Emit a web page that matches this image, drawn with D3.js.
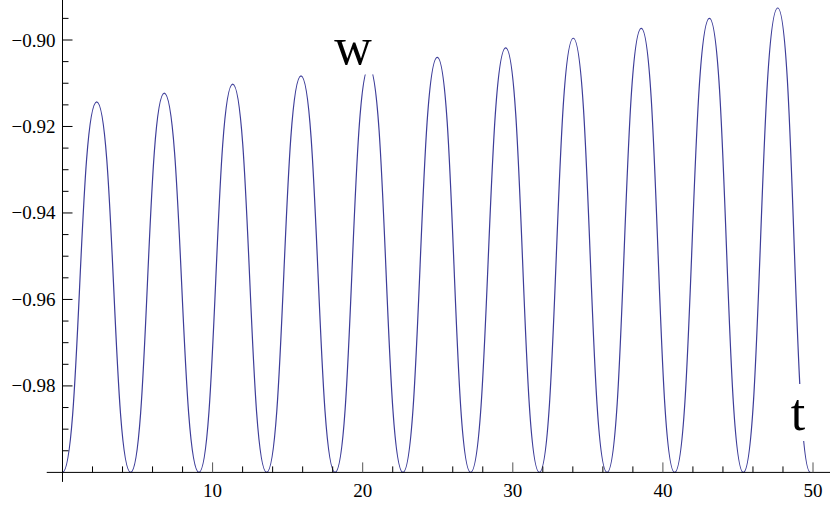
<!DOCTYPE html>
<html>
<head>
<meta charset="utf-8">
<script src="https://cdn.jsdelivr.net/npm/d3@7/dist/d3.min.js"></script>
<style>
  html, body { margin: 0; padding: 0; background: #fff; }
  svg { display: block; }
</style>
</head>
<body>
<script>
// ---- data ----
// extrema of the oscillation (t, w)
const tValues = [0, 2.28, 4.54, 6.78, 9.09, 11.34, 13.6, 15.89, 18.16, 20.42, 22.68,
                 24.97, 27.19, 29.53, 31.77, 34.03, 36.28, 38.56, 40.78, 43.1, 45.36,
                 47.65, 49.82];
const wValues = [-1.0, -0.9143, -1.0, -0.9123, -1.0, -0.9102, -1.0, -0.9083, -1.0, -0.9062, -1.0,
                 -0.9040, -1.0, -0.9018, -1.0, -0.8996, -1.0, -0.8973, -1.0, -0.8950, -1.0,
                 -0.8926, -1.0];
const xMajorTicks = [10, 20, 30, 40, 50];
const xMinorTicks = [2, 4, 6, 8, 12, 14, 16, 18, 22, 24, 26, 28, 32, 34, 36, 38, 42, 44, 46, 48];
const yMajorTicks = [-0.98, -0.96, -0.94, -0.92, -0.90];
const yMinorTicks = [-0.995, -0.99, -0.985, -0.975, -0.97, -0.965, -0.955, -0.95, -0.945,
                     -0.935, -0.93, -0.925, -0.915, -0.91, -0.905, -0.895];
const xAxisLabel = "t";
const yAxisLabel = "w";

const W = 830, H = 509;
const svg = d3.select("body").append("svg").attr("width", W).attr("height", H);

const x = d3.scaleLinear().domain([0, 50]).range([62.5, 813]);
const y = d3.scaleLinear().domain([-1.0, -0.90]).range([472.4, 40]);

const font = "'Liberation Serif', 'Times New Roman', serif";
const fmt = d3.format(".2f");

// curve (horizontal tangents at every extremum)
const pts = tValues.map((t, i) => [t, wValues[i]]);
const line = d3.line().x(d => x(d[0])).y(d => y(d[1])).curve(d3.curveBumpX);
svg.append("path")
  .attr("d", line(pts))
  .attr("fill", "none")
  .attr("stroke", "#3d3d99")
  .attr("stroke-width", 1.2);

// axes
const axisG = svg.append("g").attr("stroke", "#000").attr("stroke-width", 1);
axisG.append("line")
  .attr("x1", x(-1.05)).attr("x2", W).attr("y1", y(-1.0)).attr("y2", y(-1.0));
axisG.append("line")
  .attr("x1", x(0)).attr("x2", x(0)).attr("y1", 0).attr("y2", y(-1.0) + 9.5);

// x ticks
axisG.selectAll(".xmaj").data(xMajorTicks).join("line")
  .attr("x1", d => x(d)).attr("x2", d => x(d))
  .attr("y1", y(-1.0)).attr("y2", y(-1.0) - 10)
  .attr("stroke", "#555");
axisG.selectAll(".xmin").data(xMinorTicks).join("line")
  .attr("x1", d => x(d)).attr("x2", d => x(d))
  .attr("y1", y(-1.0)).attr("y2", y(-1.0) - 6);
// y ticks
axisG.selectAll(".ymaj").data(yMajorTicks).join("line")
  .attr("x1", x(0)).attr("x2", x(0) + 10)
  .attr("y1", d => y(d)).attr("y2", d => y(d));
axisG.selectAll(".ymin").data(yMinorTicks).join("line")
  .attr("x1", x(0)).attr("x2", x(0) + 6)
  .attr("y1", d => y(d)).attr("y2", d => y(d));

// tick labels
svg.selectAll(".xl").data(xMajorTicks).join("text")
  .attr("x", d => x(d)).attr("y", y(-1.0) + 25)
  .attr("text-anchor", "middle")
  .attr("font-family", font).attr("font-size", 19)
  .attr("fill", "#000")
  .text(d => d);
svg.selectAll(".yl").data(yMajorTicks).join("text")
  .attr("x", x(0) - 7).attr("y", d => y(d) + 6.5)
  .attr("text-anchor", "end")
  .attr("font-family", font).attr("font-size", 19)
  .attr("fill", "#000")
  .text(d => fmt(d));

// axis labels with white background boxes
function boxedLabel(txt, cx, baseline) {
  const g = svg.append("g");
  const rect = g.append("rect").attr("fill", "#fff");
  const t = g.append("text")
    .attr("x", cx).attr("y", baseline)
    .attr("text-anchor", "middle")
    .attr("font-family", font).attr("font-size", 52)
    .attr("fill", "#000")
    .text(txt);
  const b = t.node().getBBox();
  rect.attr("x", b.x - 1).attr("y", b.y).attr("width", b.width + 2).attr("height", b.height);
}
boxedLabel(yAxisLabel, 353, 63.5);
boxedLabel(xAxisLabel, 798, 430);
</script>
</body>
</html>
